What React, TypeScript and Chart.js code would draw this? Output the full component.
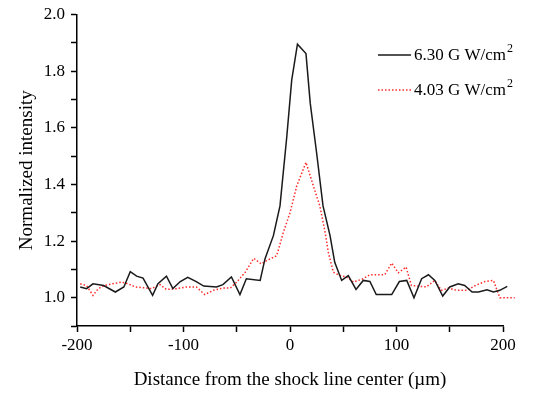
import React, { useEffect, useRef } from "react";
import { Chart, registerables } from "chart.js";
Chart.register(...registerables);

const highX = [-197, -191, -185, -175, -164, -156, -150, -144, -138, -129, -124, -116, -110, -103, -96, -88, -81, -69, -63, -55, -47, -41, -28, -23.5, -15.6, -9.4, -3, 1.6, 7, 15, 19, 25, 31, 37.6, 42, 48.5, 54.7, 62, 68.8, 75, 81, 95.5, 102.7, 109.6, 116.4, 123.6, 130, 136, 143.4, 150, 158, 164, 171, 177, 185, 191, 197, 204, 211];
const highY = [1.038, 1.032, 1.049, 1.043, 1.02, 1.038, 1.092, 1.076, 1.069, 1.008, 1.049, 1.076, 1.032, 1.057, 1.072, 1.057, 1.041, 1.038, 1.046, 1.073, 1.011, 1.067, 1.061, 1.137, 1.219, 1.324, 1.569, 1.768, 1.895, 1.862, 1.687, 1.511, 1.324, 1.219, 1.125, 1.061, 1.078, 1.029, 1.061, 1.057, 1.011, 1.011, 1.057, 1.061, 1.0, 1.067, 1.081, 1.061, 1.006, 1.038, 1.049, 1.043, 1.02, 1.02, 1.028, 1.02, 1.026, 1.04, 1.048];

const lowX = [-197, -191, -185, -180, -174, -167, -158, -152, -145.5, -135, -130, -122, -116, -106, -97, -88, -80, -72, -63, -56, -50, -42, -34, -27, -22, -12.5, -6.3, 0, 6.3, 15, 22, 28, 33, 36, 40.7, 47, 53, 59.5, 68.8, 75, 89, 95.5, 101.7, 109, 114, 128, 136, 142, 149, 156.5, 166, 174, 183, 191, 197, 211];
const lowY = [1.049, 1.043, 1.008, 1.032, 1.043, 1.049, 1.055, 1.049, 1.038, 1.034, 1.032, 1.046, 1.029, 1.032, 1.038, 1.038, 1.011, 1.026, 1.034, 1.034, 1.055, 1.09, 1.139, 1.119, 1.131, 1.148, 1.23, 1.3, 1.394, 1.478, 1.394, 1.324, 1.23, 1.16, 1.09, 1.078, 1.073, 1.055, 1.067, 1.081, 1.081, 1.122, 1.088, 1.108, 1.043, 1.038, 1.061, 1.026, 1.034, 1.026, 1.026, 1.043, 1.057, 1.061, 1.0, 1.0];

const seriesLabels = ["6.30 G W/cm", "4.03 G W/cm"];
const labelSuperscript = "2";
const xTickLabels = [-200, -100, 0, 100, 200];
const yTickLabels = ["1.0", "1.2", "1.4", "1.6", "1.8", "2.0"];
const xTitle = "Distance from the shock line center (\u00b5m)";
const yTitle = "Normalized intensity";

const FONT = "'Liberation Serif', 'Times New Roman', serif";

const legendPlugin = {
  id: "cornerLegend",
  afterDraw(chart: any) {
    const ctx = chart.ctx;
    const rows = [55, 90];
    chart.data.datasets.forEach((ds: any, i: number) => {
      const y = rows[i];
      ctx.save();
      ctx.strokeStyle = ds.borderColor;
      ctx.lineWidth = ds.borderWidth;
      ctx.setLineDash(ds.borderDash || []);
      ctx.beginPath();
      ctx.moveTo(378, y);
      ctx.lineTo(411, y);
      ctx.stroke();
      ctx.setLineDash([]);
      ctx.fillStyle = "#000";
      ctx.font = `17px ${FONT}`;
      ctx.textBaseline = "middle";
      ctx.textAlign = "left";
      const tx = 414;
      ctx.fillText(ds.label, tx, y + 1);
      const w = ctx.measureText(ds.label).width;
      ctx.font = `12px ${FONT}`;
      ctx.fillText(labelSuperscript, tx + w + 1, y - 6);
      ctx.restore();
    });
  },
};

export default function App() {
  const ref = useRef<HTMLCanvasElement>(null);
  useEffect(() => {
    if (!ref.current) return;
    const chart = new Chart(ref.current, {
      type: "line",
      data: {
        datasets: [
          {
            label: seriesLabels[0],
            data: highX.map((x, i) => ({ x, y: highY[i] })),
            borderColor: "#1a1a1a",
            borderWidth: 1.5,
            pointRadius: 0,
            tension: 0,
            clip: false as any,
          },
          {
            label: seriesLabels[1],
            data: lowX.map((x, i) => ({ x, y: lowY[i] })),
            borderColor: "#ff2a2a",
            borderWidth: 1.5,
            borderDash: [1.5, 2],
            pointRadius: 0,
            tension: 0,
            clip: false as any,
          },
        ],
      },
      options: {
        animation: false,
        responsive: false,
        maintainAspectRatio: false,
        layout: { padding: { top: 14, right: 33, left: 0, bottom: 0 } },
        plugins: { legend: { display: false }, tooltip: { enabled: false } },
        scales: {
          x: {
            type: "linear",
            min: -200,
            max: 200,
            afterFit: (s: any) => {
              s.height = 69;
            },
            border: { color: "#000", width: 1.5 },
            grid: { drawOnChartArea: false, drawTicks: true, tickLength: 6, tickColor: "#000", tickWidth: 1.5 },
            ticks: {
              stepSize: 50,
              autoSkip: false,
              maxRotation: 0,
              padding: 3,
              color: "#000",
              font: { family: FONT, size: 17 },
              callback: (v: any) => (xTickLabels.includes(Math.round(v)) ? String(Math.round(v)) : ""),
            },
            title: {
              display: true,
              text: xTitle,
              color: "#000",
              font: { family: FONT, size: 19 },
              padding: { top: 0, bottom: 4 },
            },
          },
          y: {
            type: "linear",
            min: 0.9,
            max: 2.0,
            afterFit: (s: any) => {
              s.width = 77;
            },
            border: { color: "#000", width: 1.5 },
            grid: { drawOnChartArea: false, drawTicks: true, tickLength: 6, tickColor: "#000", tickWidth: 1.5 },
            ticks: {
              stepSize: 0.1,
              autoSkip: false,
              padding: 6,
              color: "#000",
              font: { family: FONT, size: 17, lineHeight: 1 },
              callback: (v: any) => {
                const s = (Math.round(v * 10) / 10).toFixed(1);
                return yTickLabels.includes(s) ? s : "";
              },
            },
            title: {
              display: true,
              text: yTitle,
              color: "#000",
              font: { family: FONT, size: 19 },
              padding: { top: 16, bottom: 0 },
            },
          },
        },
      },
      plugins: [legendPlugin],
    });
    return () => chart.destroy();
  }, []);
  return (
    <div style={{ position: "absolute", left: 0, top: 0, width: 536, height: 395, background: "#fff" }}>
      <canvas ref={ref} width={536} height={395} style={{ width: 536, height: 395, display: "block" }} />
    </div>
  );
}
